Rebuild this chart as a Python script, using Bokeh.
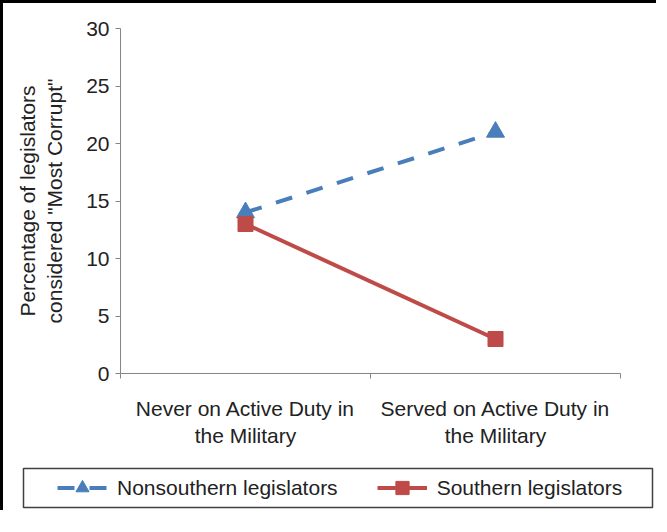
from bokeh.plotting import figure
from bokeh.models import Legend, LegendItem, FixedTicker
from bokeh.embed import file_html
from bokeh.resources import INLINE

# ---- data ----
categories = ["Never on Active Duty in\nthe Military", "Served on Active Duty in\nthe Military"]
nonsouthern = [14, 21]
southern = [13, 3]
y_ticks = [0, 5, 10, 15, 20, 25, 30]
series_names = ["Nonsouthern legislators", "Southern legislators"]

FONT = "Liberation Sans"
TEXT = "#222222"
AXIS = "#868686"
BLUE = "#4a7ebb"
RED = "#be4b48"
FS = "21px"

x = [i + 0.5 for i in range(len(categories))]

W = 656
H1, H2 = 460, 50

p = figure(width=W, height=H1, x_range=(0, len(categories)), y_range=(0, 30),
           output_backend="svg", toolbar_location=None,
           min_border_left=117, min_border_right=39, min_border_top=25, min_border_bottom=90)
p.styles = {"border-left": "3px solid black", "border-top": "3px solid black"}
p.outline_line_color = None
p.xgrid.visible = False
p.ygrid.visible = False

# y axis
ya = p.yaxis[0]
ya.ticker = FixedTicker(ticks=y_ticks)
ya.axis_line_color = AXIS
ya.major_tick_line_color = AXIS
ya.major_tick_in = 0
ya.major_tick_out = 5
ya.minor_tick_line_color = None
ya.major_label_text_font = FONT
ya.major_label_text_font_size = FS
ya.major_label_text_color = TEXT
ya.major_label_standoff = 6
ya.axis_label = 'Percentage of legislators\nconsidered "Most Corrupt"'
ya.axis_label_text_font = FONT
ya.axis_label_text_font_size = FS
ya.axis_label_text_font_style = "normal"
ya.axis_label_text_color = TEXT
ya.axis_label_standoff = 17

# x axis
xa = p.xaxis[0]
xa.ticker = FixedTicker(ticks=x, minor_ticks=list(range(len(categories) + 1)))
xa.major_label_overrides = {xi: c for xi, c in zip(x, categories)}
xa.axis_line_color = AXIS
xa.major_tick_line_color = None
xa.major_tick_in = 0
xa.major_tick_out = 0
xa.minor_tick_line_color = AXIS
xa.minor_tick_in = 0
xa.minor_tick_out = 5
xa.major_label_text_font = FONT
xa.major_label_text_font_size = FS
xa.major_label_text_color = TEXT
xa.major_label_standoff = 18

# series
blue_line = dict(line_color=BLUE, line_width=4, line_dash="17 15")
blue_mark = dict(marker="triangle", size=18, fill_color=BLUE, line_color=BLUE)
red_line = dict(line_color=RED, line_width=4)
red_mark = dict(marker="square", size=15, fill_color=RED, line_color=RED)

p.line(x, nonsouthern, **blue_line)
p.scatter(x, nonsouthern, **blue_mark)
p.line(x, southern, **red_line)
p.scatter(x, southern, **red_mark)

# ---- boxed legend strip (separate root, its frame is the legend box) ----
q = figure(width=W, height=H2, x_range=(0, 1), y_range=(0, 1),
           output_backend="svg", toolbar_location=None,
           x_axis_type=None, y_axis_type=None,
           min_border_left=20, min_border_right=7, min_border_top=8, min_border_bottom=3)
q.styles = {"border-left": "3px solid black"}
q.grid.visible = False
q.outline_line_color = "#404040"
q.outline_line_width = 1.5

# legend proxies: same series, falling outside this strip's ranges
lb = q.line(x, nonsouthern, **blue_line)
mb = q.scatter(x, nonsouthern, **blue_mark)
lr = q.line(x, southern, **red_line)
mr = q.scatter(x, southern, **red_mark)

legend = Legend(items=[LegendItem(label=series_names[0], renderers=[lb, mb]),
                       LegendItem(label=series_names[1], renderers=[lr, mr])],
                orientation="horizontal", location=(34, 3),
                glyph_width=50, glyph_height=33, padding=0, spacing=39, label_standoff=10,
                label_text_font=FONT, label_text_font_size=FS, label_text_color=TEXT,
                border_line_color=None, background_fill_alpha=0, margin=0)
q.add_layout(legend, "center")

open("out.html", "w").write(file_html([p, q], INLINE))
